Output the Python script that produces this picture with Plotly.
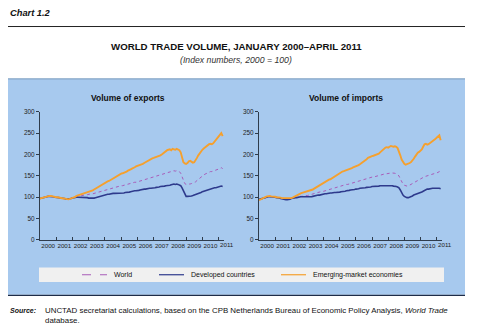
import plotly.graph_objects as go
import pandas as pd

# ---------------- data (monthly, Jan 2000 - Apr 2011) ----------------
years = ["2000", "2001", "2002", "2003", "2004", "2005", "2006", "2007", "2008", "2009", "2010", "2011"]
yticks = [0, 50, 100, 150, 200, 250, 300]

exp_emerging = [
    97, 98, 99, 100, 101, 102, 102, 103, 103, 102, 102, 101,
    100, 100, 99, 99, 98, 97, 97, 96, 95, 95, 96, 97,
    99, 100, 101, 103, 104, 105, 107, 108, 109, 110, 111, 112,
    113, 114, 115, 116, 118, 120, 122, 124, 126, 128, 130, 132,
    134, 136, 137, 138, 140, 142, 144, 146, 148, 150, 152, 154,
    155, 156, 157, 158, 160, 162, 163, 165, 167, 168, 170, 172,
    173, 174, 176, 177, 178, 180, 182, 184, 186, 188, 190, 191,
    192, 193, 194, 195, 196, 198, 200, 203, 206, 208, 210, 211,
    212, 210, 213, 212, 211, 213, 212, 210, 205, 192, 182, 179,
    178, 180, 184, 185, 183, 181, 182, 186, 192, 198, 203, 208,
    211, 214, 217, 220, 222, 224, 225, 224, 226, 230, 236, 240,
    243, 247, 250, 243]
exp_world = [
    97, 98, 99, 100, 100, 101, 102, 102, 102, 101, 101, 100,
    100, 99, 99, 98, 98, 97, 97, 96, 96, 96, 97, 98,
    99, 100, 101, 101, 102, 103, 103, 104, 104, 105, 106, 106,
    107, 107, 108, 108, 109, 110, 111, 112, 113, 114, 115, 116,
    117, 118, 119, 120, 120, 121, 122, 123, 124, 125, 125, 126,
    127, 127, 128, 129, 130, 131, 132, 132, 133, 134, 135, 135,
    136, 137, 138, 139, 140, 141, 142, 143, 144, 145, 146, 146,
    147, 148, 149, 150, 151, 152, 153, 154, 155, 156, 157, 158,
    159, 160, 161, 162, 161, 162, 161, 160, 156, 147, 138, 132,
    130, 130, 131, 131, 132, 133, 134, 136, 139, 142, 145, 148,
    150, 152, 154, 156, 158, 159, 160, 160, 161, 162, 163, 164,
    165, 167, 169, 167]
exp_developed = [
    97, 98, 99, 100, 100, 101, 102, 102, 102, 101, 101, 100,
    100, 99, 99, 98, 98, 97, 97, 96, 96, 96, 96, 97,
    98, 99, 99, 100, 100, 100, 100, 100, 100, 99, 99, 99,
    98, 98, 97, 97, 98, 99, 100, 101, 102, 103, 104, 105,
    106, 106, 107, 107, 108, 108, 109, 109, 109, 110, 110, 110,
    110, 110, 110, 111, 111, 112, 112, 113, 114, 114, 115, 115,
    115, 116, 117, 118, 118, 119, 119, 120, 120, 121, 121, 121,
    122, 122, 123, 123, 124, 125, 125, 126, 126, 127, 127, 127,
    128, 129, 130, 131, 130, 131, 130, 129, 127, 122, 114, 106,
    102, 102, 102, 103, 103, 104, 105, 107, 108, 109, 110, 111,
    113, 114, 116, 117, 118, 119, 120, 121, 121, 122, 122, 123,
    124, 125, 126, 125]

imp_emerging = [
    93, 95, 97, 99, 100, 101, 102, 103, 103, 102, 102, 101,
    101, 100, 100, 99, 99, 98, 98, 97, 97, 97, 98, 98,
    98, 99, 101, 103, 105, 107, 108, 109, 110, 111, 112, 112,
    113, 114, 115, 116, 118, 120, 122, 124, 126, 129, 131, 133,
    135, 137, 139, 140, 141, 142, 144, 146, 148, 150, 153, 156,
    158, 159, 160, 161, 162, 163, 164, 166, 167, 168, 170, 171,
    172, 173, 175, 177, 179, 181, 183, 186, 189, 192, 194, 195,
    196, 197, 198, 199, 200, 202, 205, 208, 211, 214, 216, 217,
    216, 218, 220, 219, 218, 219, 218, 215, 208, 198, 188, 182,
    178, 176, 177, 178, 180, 182, 185, 190, 195, 200, 204, 206,
    208, 212, 218, 224, 225, 223, 224, 226, 228, 230, 233, 236,
    239, 242, 245, 233]
imp_world = [
    94, 95, 97, 98, 99, 100, 101, 102, 102, 102, 101, 101,
    100, 100, 99, 99, 98, 98, 97, 97, 96, 96, 96, 96,
    97, 98, 98, 99, 100, 101, 101, 102, 102, 103, 103, 104,
    104, 105, 106, 107, 108, 109, 110, 110, 111, 112, 113, 113,
    114, 115, 116, 117, 118, 119, 120, 121, 122, 123, 124, 125,
    126, 127, 127, 128, 129, 130, 130, 131, 132, 133, 133, 134,
    135, 136, 137, 138, 139, 140, 141, 142, 143, 144, 145, 146,
    147, 148, 148, 149, 150, 151, 152, 153, 153, 154, 155, 155,
    155, 156, 157, 157, 156, 156, 155, 153, 150, 143, 136, 131,
    128, 126, 126, 127, 128, 130, 132, 134, 136, 138, 140, 141,
    142, 144, 146, 148, 149, 150, 151, 152, 153, 154, 155, 155,
    156, 158, 160, 159]
imp_developed = [
    95, 96, 97, 98, 99, 100, 101, 101, 101, 101, 100, 100,
    100, 99, 99, 98, 97, 96, 96, 95, 94, 94, 94, 95,
    97, 98, 98, 99, 99, 100, 100, 101, 101, 101, 100, 100,
    100, 100, 100, 101, 102, 103, 104, 104, 105, 105, 106, 106,
    107, 108, 108, 109, 109, 110, 110, 111, 111, 111, 111, 112,
    112, 113, 113, 114, 114, 115, 115, 116, 117, 117, 118, 118,
    119, 119, 120, 121, 121, 122, 122, 122, 123, 123, 124, 124,
    125, 125, 125, 126, 126, 126, 127, 127, 127, 127, 127, 127,
    127, 128, 127, 127, 126, 126, 125, 124, 122, 117, 110, 105,
    102, 100, 99, 99, 100, 101, 103, 105, 106, 107, 108, 109,
    110, 112, 114, 116, 118, 119, 119, 120, 120, 121, 121, 121,
    121, 122, 121, 120]

series_names = ["World", "Developed countries", "Emerging-market economies"]
series_colors = ["#A85CB8", "#2E3A8C", "#F5A02E"]
series_widths = [1, 1.6, 1.9]
series_dash = ["dot", "solid", "solid"]

# ---------------- figure ----------------
W, H = 479, 336
FONT = "Liberation Sans, Arial, sans-serif"
months = pd.date_range("2000-01-01", periods=len(exp_world), freq="MS")
xnum = [d.year + (d.month - 1) / 12 for d in months]

fig = go.Figure()
panels = [
    ("x", "y", [exp_world, exp_developed, exp_emerging]),
    ("x2", "y2", [imp_world, imp_developed, imp_emerging]),
]
for xa, ya, data in panels:
    for name, vals, col, w, dsh in zip(series_names, data, series_colors, series_widths, series_dash):
        fig.add_trace(go.Scatter(x=xnum, y=vals, mode="lines", name=name,
                                 line=dict(color=col, width=w, dash=dsh),
                                 xaxis=xa, yaxis=ya, showlegend=False))

def px(x):
    return x / W

def py(y):
    return 1 - y / H

AXC = "#2f3c4c"
TICKFONT = dict(family=FONT, size=6.2, color="#222222")
xrange_ = [2000, 2000 + (len(xnum)) / 12]
# labels centred on each year; the last (2011) label falls just past the axis end
tickv = [int(y) + 0.5 for y in years[:-1]]
xaxis_common = dict(
    range=xrange_, tickmode="array", tickvals=tickv, ticktext=years[:-1],
    ticks="", tickangle=0, showgrid=False, zeroline=False, showline=True, linecolor=AXC, linewidth=1,
    tickfont=TICKFONT,
    minor=dict(tickmode="array", tickvals=list(range(2001, 2012)), ticks="inside",
               ticklen=3, tickcolor=AXC, showgrid=False),
    fixedrange=True,
)
yaxis_common = dict(
    range=[0, 300], tickmode="array", tickvals=yticks, ticks="outside", ticklen=3,
    tickcolor=AXC, showgrid=False, zeroline=False, showline=True,
    linecolor=AXC, linewidth=1.2,
    tickfont=dict(family=FONT, size=6.4, color="#222222"), fixedrange=True,
)
yd = [py(241), py(110)]
dom_left = [px(40), px(224)]
dom_right = [px(259), px(442)]
fig.update_layout(
    width=W, height=H, margin=dict(l=0, r=0, t=0, b=0),
    paper_bgcolor="white", plot_bgcolor="#F0F0F0", showlegend=False,
    xaxis=dict(domain=dom_left, anchor="y", **xaxis_common),
    yaxis=dict(domain=yd, anchor="x", **yaxis_common),
    xaxis2=dict(domain=dom_right, anchor="y2", **xaxis_common),
    yaxis2=dict(domain=yd, anchor="x2", **yaxis_common),
)

shapes = [
    dict(type="line", xref="paper", yref="paper", x0=px(8), x1=px(465), y0=py(23), y1=py(23),
         line=dict(color="#222222", width=1)),
    dict(type="rect", xref="paper", yref="paper", x0=px(8), x1=px(465), y0=py(297), y1=py(76),
         fillcolor="#A7C9EE", line=dict(width=0), layer="below"),
    dict(type="line", xref="paper", yref="paper", x0=px(8), x1=px(465), y0=py(76.5), y1=py(76.5),
         line=dict(color="#7E9DBE", width=1)),
    dict(type="line", xref="paper", yref="paper", x0=px(8), x1=px(465), y0=py(297.5), y1=py(297.5),
         line=dict(color="#1E2C48", width=1.2)),
    dict(type="rect", xref="paper", yref="paper", x0=px(39), x1=px(444), y0=py(284), y1=py(269),
         fillcolor="#F0F0F0", line=dict(width=0), layer="below"),
]
# legend keys
leg_x = [82, 159, 281]
for lx, col, w, dsh in zip(leg_x, series_colors, series_widths, ["dash", "solid", "solid"]):
    shapes.append(dict(type="line", xref="paper", yref="paper", x0=px(lx), x1=px(lx + 25),
                       y0=py(276.5), y1=py(276.5), line=dict(color=col, width=1.2, dash=dsh)))
fig.update_layout(shapes=shapes)

ann = []
def text(x, y, s, size, xanchor="left", color="#111111"):
    ann.append(dict(x=px(x), y=py(y), xref="paper", yref="paper", text=s, showarrow=False,
                    xanchor=xanchor, yanchor="middle", font=dict(family=FONT, size=size, color=color)))

# last year label of each panel, placed at mid-year (just beyond the axis end)
for dom in [dom_left, dom_right]:
    frac = (int(years[-1]) + 0.5 - xrange_[0]) / (xrange_[1] - xrange_[0])
    ann.append(dict(x=dom[0] + frac * (dom[1] - dom[0]), y=py(245.5), xref="paper", yref="paper",
                    text=years[-1], showarrow=False, xanchor="center", yanchor="middle", font=TICKFONT))

text(8, 9, "<b><i>Chart 1.2</i></b>", 9.3)
text(236, 43, "<b>WORLD TRADE VOLUME, JANUARY 2000–APRIL 2011</b>", 9.7, "center")
text(236, 57, "<i>(Index numbers, 2000 = 100)</i>", 8.7, "center", "#333333")
text(128, 96, "<b>Volume of exports</b>", 8.5, "center")
text(346, 96, "<b>Volume of imports</b>", 8.5, "center")
for lx, name in zip(leg_x, series_names):
    text(lx + 30, 276.5, name, 7)
text(8, 313, "<b><i>Source:</i></b>", 7)
text(43, 313, "UNCTAD secretariat calculations, based on the CPB Netherlands Bureau of Economic Policy Analysis, <i>World Trade</i>", 7.9)
text(43, 323, "database.", 7.9)
fig.update_layout(annotations=ann)

fig.write_html("out.html")
